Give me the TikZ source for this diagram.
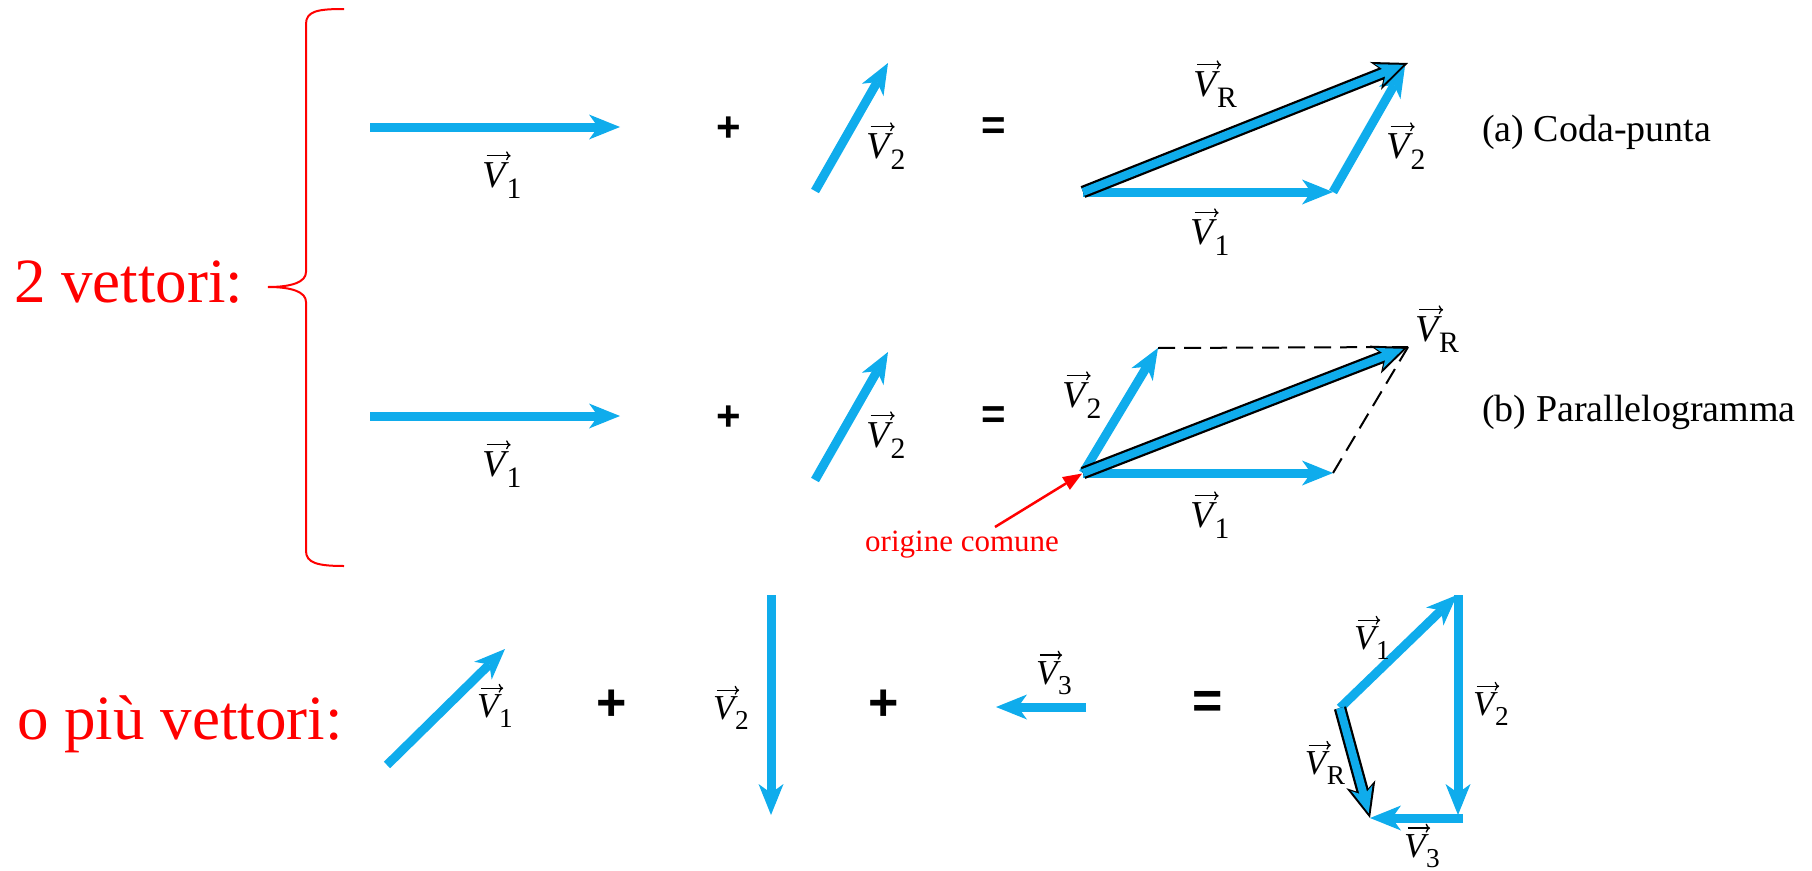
\documentclass[tikz,border=0pt]{standalone}
\usepackage{graphicx}
\usepackage{fontspec}
\setmainfont{Liberation Serif}
\setsansfont{Liberation Sans}
\newfontfamily\tms{Liberation Serif}
\newfontfamily\arl{Liberation Sans}
\usetikzlibrary{arrows.meta}
\definecolor{vblue}{RGB}{15,172,236}
\newcommand\vlab[1]{\rule{0pt}{1em}{\itshape V}\kern0.02em\raisebox{-0.3em}{\scalebox{0.78}{#1}}}
\tikzset{
  vec/.style={draw=vblue, line width=9pt, -{Stealth[length=31pt,width=25pt,inset=9pt,line width=0pt]}},
  vresout/.style={draw=black, line width=12.5pt, -{Stealth[length=35pt,width=30pt,inset=10pt,line width=0pt]}},
  vresin/.style={draw=vblue, line width=8pt, shorten >=5pt, -{Stealth[length=26pt,width=22pt,inset=7.5pt,line width=0pt]}},
  overarrow/.style={draw=black, line width=1.3pt, -{To[length=4.5pt,width=9pt]}},
  lab/.style={font=\tms\fontsize{38}{44}\selectfont, inner sep=0pt,
    path picture={\draw[overarrow] ([xshift=4pt,yshift=-6.5pt]path picture bounding box.north west) -- ([xshift=28pt,yshift=-6.5pt]path picture bounding box.north west);}},
  lab3/.style={font=\tms\fontsize{35}{40}\selectfont, inner sep=0pt,
    path picture={\draw[overarrow] ([xshift=3.7pt,yshift=-6pt]path picture bounding box.north west) -- ([xshift=26pt,yshift=-6pt]path picture bounding box.north west);}},
  op/.style={font=\arl\bfseries\fontsize{42}{46}\selectfont, inner sep=0pt},
  op3/.style={font=\arl\bfseries\fontsize{52}{56}\selectfont, inner sep=0pt},
  bigred/.style={text=red, inner sep=0pt, anchor=base west, font=\tms\fontsize{63}{70}\selectfont},
  caption/.style={inner sep=0pt, anchor=base west, font=\tms\fontsize{38}{44}\selectfont},
  dashline/.style={draw=black, line width=2pt, dash pattern=on 17pt off 9pt},
}
\begin{document}
\begin{tikzpicture}[x=1pt,y=-1pt]
\useasboundingbox (0,0) rectangle (1812,870);

% ---------- left texts and brace ----------
\node[bigred] (two) at (14,302) {2 vettori:};
\node[bigred] (more) at (17,739) {o più vettori:};
\draw[red, line width=2pt] (344,9) .. controls (318,9) and (306,11) .. (306,24) -- (306,272)
  .. controls (306,282) and (292,287) .. (268,287)
  .. controls (292,287) and (306,292) .. (306,302) -- (306,551)
  .. controls (306,563) and (318,566) .. (344,566);

% ---------- row 1 ----------
\coordinate (a1s) at (370,127); \coordinate (a1e) at (620,127);
\coordinate (a2s) at (815,191); \coordinate (a2e) at (888,63);
\draw[vec] (a1s) -- (a1e);
\draw[vec] (a2s) -- (a2e);
\node[lab] (la1) at (502,174) {\vlab{1}};
\node[lab] (la2) at (886,145) {\vlab{2}};
\node[op] (pa) at (729,129) {+};
\node[op] (ea) at (994,129) {=};
\coordinate (O1) at (1083,192); \coordinate (A1) at (1333,192);
\coordinate (B1) at (1405,66); \coordinate (R1) at (1408,63);
\draw[vec] (O1) -- (A1);
\draw[vec] (A1) -- (B1);
\draw[vresout] (O1) -- (R1);
\draw[vresin] (O1) -- (R1);
\node[lab] (ta1) at (1210,231) {\vlab{1}};
\node[lab] (ta2) at (1406,145) {\vlab{2}};
\node[lab] (taR) at (1215,83) {\vlab{R}};
\node[caption] (capa) at (1482,141) {(a) Coda-punta};

% ---------- row 2 ----------
\coordinate (b1s) at (370,416); \coordinate (b1e) at (620,416);
\coordinate (b2s) at (815,480); \coordinate (b2e) at (888,352);
\draw[vec] (b1s) -- (b1e);
\draw[vec] (b2s) -- (b2e);
\node[lab] (lb1) at (502,463) {\vlab{1}};
\node[lab] (lb2) at (886,434) {\vlab{2}};
\node[op] (pb) at (729,418) {+};
\node[op] (eb) at (994,418) {=};
\coordinate (O2) at (1083,473); \coordinate (A2) at (1333,473);
\coordinate (B2) at (1158,348); \coordinate (R2) at (1408,347);
\draw[dashline] (B2) -- (R2);
\draw[dashline] (A2) -- (R2);
\draw[vec] (O2) -- (A2);
\draw[vec] (O2) -- (B2);
\draw[vresout] (O2) -- (R2);
\draw[vresin] (O2) -- (R2);
\node[lab] (pb1) at (1210,514) {\vlab{1}};
\node[lab] (pb2) at (1082,394) {\vlab{2}};
\node[lab] (pbR) at (1437,328) {\vlab{R}};
\node[caption] (capb) at (1482,421) {(b) Parallelogramma};
\node[inner sep=0pt, anchor=base west, text=red, font=\tms\fontsize{31}{36}\selectfont] (oc) at (865,551) {origine comune};
\coordinate (ocA) at (995,527);
\draw[red, line width=2.5pt, shorten >=1pt, -{Triangle[length=19pt,width=15pt,line width=0pt]}] (ocA) -- (O2);

% ---------- row 3 ----------
\coordinate (c1s) at (387,765); \coordinate (c1e) at (505,649);
\coordinate (c2s) at (771,595); \coordinate (c2e) at (771,815);
\coordinate (c3s) at (1086,707); \coordinate (c3e) at (996,707);
\draw[vec] (c1s) -- (c1e);
\draw[vec] (c2s) -- (c2e);
\draw[vec] (c3s) -- (c3e);
\node[lab3] (lc1) at (495,705) {\vlab{1}};
\node[lab3] (lc2) at (731,707) {\vlab{2}};
\node[lab3] (lc3) at (1054,672) {\vlab{3}};
\node[op3] (pc1) at (612,705) {+};
\node[op3] (pc2) at (884,705) {+};
\node[op3] (ec) at (1208,705) {=};
\coordinate (P0) at (1340,708); \coordinate (P1) at (1457,595);
\coordinate (P1b) at (1458,595); \coordinate (P2) at (1458,815);
\coordinate (P2b) at (1463,818); \coordinate (P3) at (1370,818);
\draw[vec] (P0) -- (P1);
\draw[vec] (P1b) -- (P2);
\draw[vec] (P2b) -- (P3);
\draw[vresout] (P0) -- (P3);
\draw[vresin] (P0) -- (P3);
\node[lab3] (qc1) at (1372,637) {\vlab{1}};
\node[lab3] (qc2) at (1491,703) {\vlab{2}};
\node[lab3] (qcR) at (1325,762) {\vlab{R}};
\node[lab3] (qc3) at (1422,845) {\vlab{3}};
\end{tikzpicture}
\end{document}
